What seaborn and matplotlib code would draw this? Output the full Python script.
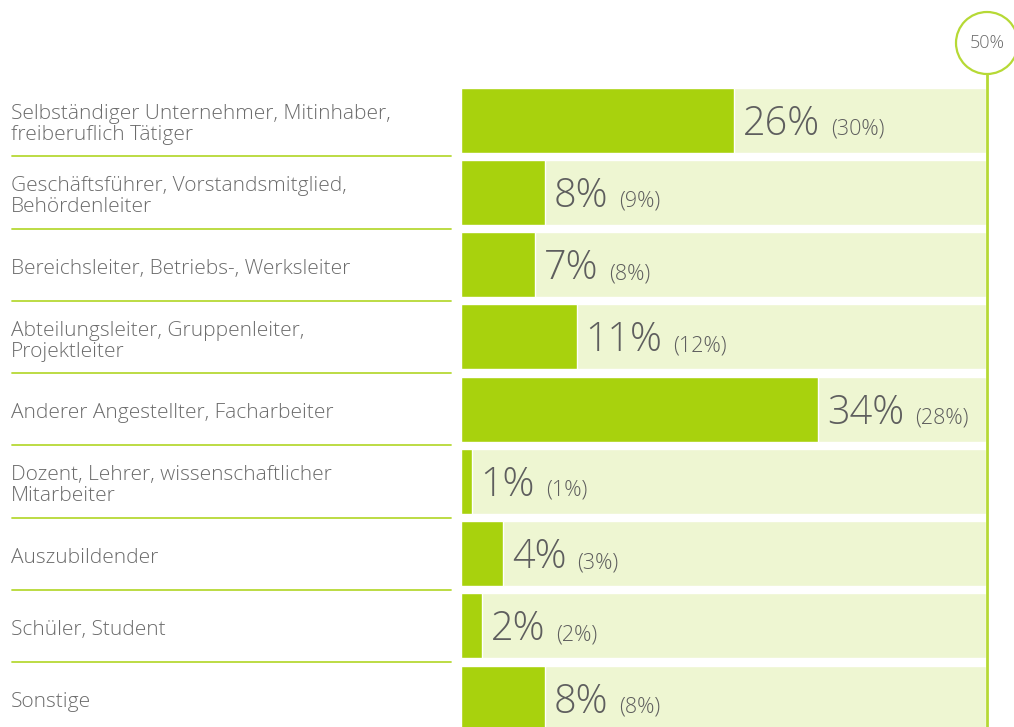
import numpy as np
import pandas as pd
import seaborn as sns
import matplotlib.pyplot as plt
import matplotlib.transforms as mtransforms
from matplotlib.patches import Ellipse
from matplotlib.lines import Line2D

# DATA
categories = [
    "Selbständiger Unternehmer, Mitinhaber,\nfreiberuflich Tätiger",
    "Geschäftsführer, Vorstandsmitglied,\nBehördenleiter",
    "Bereichsleiter, Betriebs-, Werksleiter",
    "Abteilungsleiter, Gruppenleiter,\nProjektleiter",
    "Anderer Angestellter, Facharbeiter",
    "Dozent, Lehrer, wissenschaftlicher\nMitarbeiter",
    "Auszubildender",
    "Schüler, Student",
    "Sonstige",
]
values = [26, 8, 7, 11, 34, 1, 4, 2, 8]
previous = [30, 9, 8, 12, 28, 1, 3, 2, 8]
scale_max = 50

BAR = "#a8d20d"
BG = "#eef6d2"
LINE = "#b6d935"
TEXT = "#6b6b6b"
VALUE = "#5e5e5e"

sns.set_theme(style="white")
plt.rcParams["font.family"] = ["Open Sans", "DejaVu Sans"]

df = pd.DataFrame({"cat": categories, "val": values, "prev": previous,
                   "full": [scale_max] * len(categories)})

W, H = 1014, 727
fig = plt.figure(figsize=(W / 100, H / 100), dpi=100)
ax = fig.add_axes([461 / W, 0, (986 - 461) / W, (H - 84) / H])

sns.barplot(data=df, x="full", y="cat", orient="h", color=BG, width=0.9,
            saturation=1, ax=ax)
sns.barplot(data=df, x="val", y="cat", orient="h", color=BAR, width=0.9,
            saturation=1, ax=ax)

ax.set_xlim(0, scale_max)
ax.set_ylim((H - 84) / 72.25 - 0.5, -0.5)
ax.axis("off")

# labels and separators on the left
blend = mtransforms.blended_transform_factory(fig.transFigure, ax.transData)
for i, label in enumerate(categories):
    ax.text(11 / W, i + 0.06, label, transform=blend, ha="left", va="center",
            fontsize=15, color=TEXT, fontweight="light", linespacing=1.05,
            clip_on=False)
    if i < len(categories) - 1:
        ax.add_line(Line2D([12 / W, 451 / W], [i + 0.5, i + 0.5], transform=blend,
                           color=LINE, lw=1.3, clip_on=False))

# value texts
big = []
for i, v in enumerate(values):
    t = ax.text(v + 0.85, i + 0.2, f"{v}%", ha="left", va="baseline",
                fontsize=28.5, color=VALUE, fontweight="light")
    big.append(t)

fig.canvas.draw()
renderer = fig.canvas.get_renderer()
inv = ax.transData.inverted()
for i, (t, p) in enumerate(zip(big, previous)):
    bb = t.get_window_extent(renderer)
    x = inv.transform((bb.x1 + 11, 0))[0]
    ax.text(x, i + 0.2, f"({p}%)", ha="left", va="baseline",
            fontsize=15.5, color=VALUE, fontweight="light")

# 50% marker
cx, cy, r = 987, 43, 31
fig.add_artist(Ellipse((cx / W, 1 - cy / H), 2 * r / W, 2 * r / H,
                       facecolor="white", edgecolor=LINE, lw=1.6))
fig.add_artist(Line2D([cx / W, cx / W], [1 - (cy + r) / H, 0], color=LINE, lw=2))
fig.text(cx / W, 1 - cy / H, "50%", ha="center", va="center", fontsize=13,
         color=TEXT, fontweight="light")

fig.savefig("out.png", dpi=100)
